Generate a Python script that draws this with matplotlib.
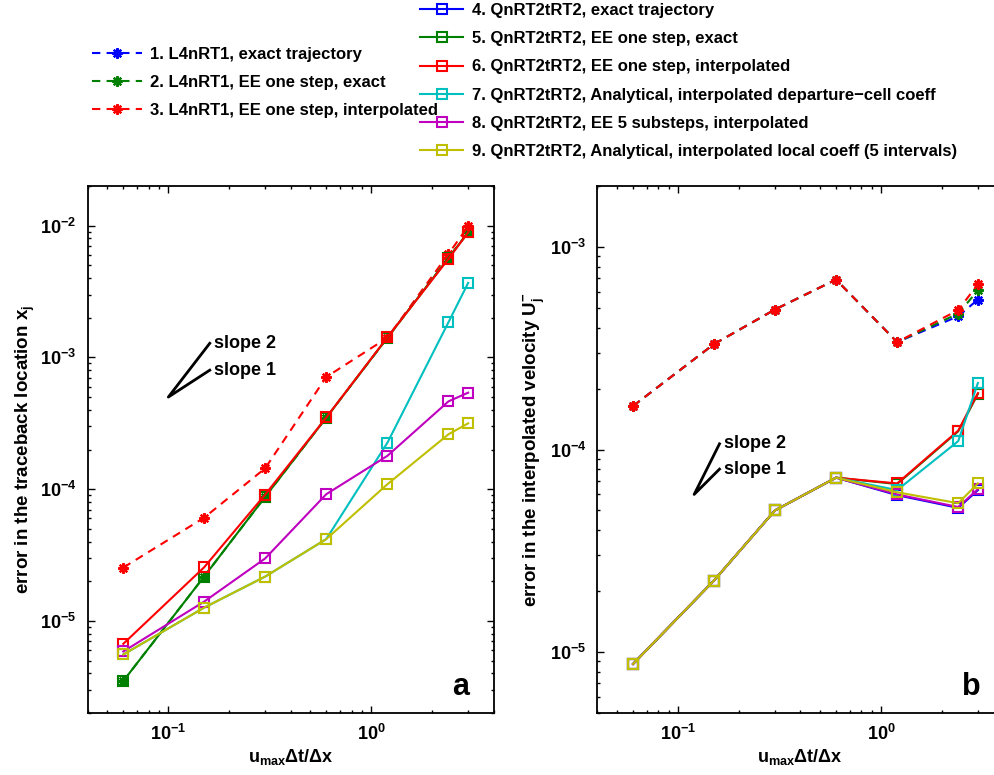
import numpy as np
import matplotlib
matplotlib.use("Agg")
import matplotlib.pyplot as plt
from matplotlib.ticker import LogLocator, NullFormatter

plt.rcParams["font.family"] = ["Liberation Sans", "DejaVu Sans"]
plt.rcParams["font.weight"] = "bold"
plt.rcParams["mathtext.fontset"] = "custom"
plt.rcParams["mathtext.rm"] = "Liberation Sans:bold"
plt.rcParams["mathtext.it"] = "Liberation Sans:bold"
plt.rcParams["mathtext.bf"] = "Liberation Sans:bold"
plt.rcParams["mathtext.sf"] = "Liberation Sans:bold"

# Courant numbers
courant = [0.06, 0.15, 0.3, 0.6, 1.2, 2.4, 3.0]

labels = [
    "1. L4nRT1, exact trajectory",
    "2. L4nRT1, EE one step, exact",
    "3. L4nRT1, EE one step, interpolated",
    "4. QnRT2tRT2, exact trajectory",
    "5. QnRT2tRT2, EE one step, exact",
    "6. QnRT2tRT2, EE one step, interpolated",
    "7. QnRT2tRT2, Analytical, interpolated departure\u2212cell coeff",
    "8. QnRT2tRT2, EE 5 substeps, interpolated",
    "9. QnRT2tRT2, Analytical, interpolated local coeff (5 intervals)",
]
colors = [(0, 0, 1), (0, 0.5, 0), (1, 0, 0), (0, 0, 1), (0, 0.5, 0), (1, 0, 0),
          (0, 0.75, 0.75), (0.75, 0, 0.75), (0.75, 0.75, 0)]

# (a) traceback location error; exact-trajectory runs have zero error
nan7 = [np.nan] * 7
trace_err = [
    nan7,
    [3.5e-6, 2.17e-5, 8.75e-5, 3.49e-4, 1.41e-3, 5.69e-3, 8.9e-3],
    [2.54e-5, 6.07e-5, 1.44e-4, 7.1e-4, 1.41e-3, 6.1e-3, 9.9e-3],
    nan7,
    [3.5e-6, 2.17e-5, 8.75e-5, 3.49e-4, 1.41e-3, 5.69e-3, 8.9e-3],
    [6.7e-6, 2.55e-5, 9.1e-5, 3.5e-4, 1.42e-3, 5.6e-3, 8.9e-3],
    [5.56e-6, 1.26e-5, 2.17e-5, 4.18e-5, 2.25e-4, 1.85e-3, 3.68e-3],
    [5.86e-6, 1.40e-5, 2.98e-5, 9.16e-5, 1.79e-4, 4.64e-4, 5.4e-4],
    [5.56e-6, 1.26e-5, 2.17e-5, 4.18e-5, 1.09e-4, 2.61e-4, 3.16e-4],
]

# (b) interpolated velocity error
vel_err = [
    [1.64e-4, 3.31e-4, 4.91e-4, 6.9e-4, 3.39e-4, 4.55e-4, 5.5e-4],
    [1.64e-4, 3.31e-4, 4.91e-4, 6.9e-4, 3.39e-4, 4.69e-4, 6.1e-4],
    [1.64e-4, 3.31e-4, 4.91e-4, 6.9e-4, 3.39e-4, 4.88e-4, 6.55e-4],
    [8.73e-6, 2.25e-5, 5.0e-5, 7.26e-5, 5.95e-5, 5.15e-5, 6.3e-5],
    [8.73e-6, 2.25e-5, 5.0e-5, 7.26e-5, 6.75e-5, 1.23e-4, 1.88e-4],
    [8.73e-6, 2.25e-5, 5.0e-5, 7.26e-5, 6.8e-5, 1.24e-4, 1.9e-4],
    [8.73e-6, 2.25e-5, 5.0e-5, 7.26e-5, 6.3e-5, 1.10e-4, 2.13e-4],
    [8.73e-6, 2.25e-5, 5.0e-5, 7.26e-5, 6.0e-5, 5.2e-5, 6.37e-5],
    [8.73e-6, 2.25e-5, 5.0e-5, 7.26e-5, 6.15e-5, 5.43e-5, 6.8e-5],
]

# reference slope triangles: (vertex x, vertex y, end x)
slope_a = (0.1, 5.0e-4, 0.16)
slope_b = (0.12, 6.0e-5, 0.16)

fig = plt.figure(figsize=(9.95, 7.75), dpi=100)
ax_a = fig.add_axes([0.088, 0.08, 0.408, 0.68])
ax_b = fig.add_axes([0.6003, 0.08, 0.408, 0.68])


def draw_series(ax, data):
    handles = []
    for i, y in enumerate(data):
        if i < 3:
            h, = ax.plot(courant, y, color=colors[i], lw=1.5, ls=(0, (4, 3)),
                         marker=(8, 2, 0), ms=7.5, mew=1.6, label=labels[i])
        else:
            h, = ax.plot(courant, y, color=colors[i], lw=1.5, ls="-",
                         marker="s", ms=7, mew=1.5, mfc="none", label=labels[i])
        handles.append(h)
    return handles


def draw_slopes(ax, tri):
    x0, y0, x1 = tri
    r = x1 / x0
    ax.plot([x1, x0, x1], [y0 * r ** 2, y0, y0 * r], color="k", lw=2)
    ax.text(x1 * 1.05, y0 * r ** 2, "slope 2", fontsize=13, fontweight="bold",
            va="center", ha="left")
    ax.text(x1 * 1.05, y0 * r, "slope 1", fontsize=13, fontweight="bold",
            va="center", ha="left")


def style_axes(ax, ylim, ylabel):
    ax.set_xscale("log")
    ax.set_yscale("log")
    ax.set_xlim(0.04, 4)
    ax.set_ylim(*ylim)
    ax.xaxis.set_minor_locator(LogLocator(base=10, subs=np.arange(2, 10), numticks=20))
    ax.yaxis.set_minor_locator(LogLocator(base=10, subs=np.arange(2, 10), numticks=20))
    ax.xaxis.set_minor_formatter(NullFormatter())
    ax.yaxis.set_minor_formatter(NullFormatter())
    ax.tick_params(which="both", direction="in", top=True, right=True,
                   labelsize=13, width=1)
    ax.tick_params(which="major", length=5, pad=8)
    ax.tick_params(which="minor", length=2.5)
    for sp in ax.spines.values():
        sp.set_linewidth(1.3)
    ax.set_xlabel(r"$\mathbf{u_{max}}$" + "\u0394t/\u0394x", fontsize=13,
                  fontweight="bold", labelpad=2)
    ax.set_ylabel(ylabel, fontsize=13.5, fontweight="bold", labelpad=2)


draw_series(ax_a, trace_err)
handles = draw_series(ax_b, vel_err)
draw_slopes(ax_a, slope_a)
draw_slopes(ax_b, slope_b)
style_axes(ax_a, (2e-6, 2e-2), r"error in the traceback location $\mathbf{x_j}$")
style_axes(ax_b, (5e-6, 2e-3), r"error in the interpolated velocity $\mathbf{U_j^{-}}$")

ax_a.text(0.94, 0.035, "a", transform=ax_a.transAxes, fontsize=22,
          fontweight="bold", ha="right", va="baseline")
ax_b.text(0.945, 0.035, "b", transform=ax_b.transAxes, fontsize=22,
          fontweight="bold", ha="right", va="baseline")

leg_kw = dict(frameon=False, numpoints=1, fontsize=12, borderpad=0,
              borderaxespad=0, labelspacing=0.79, handletextpad=0.5)
fig.legend(handles[:3], labels[:3], loc="upper left",
           bbox_to_anchor=(0.0925, 0.94), handlelength=3.0, **leg_kw)
fig.legend(handles[3:], labels[3:], loc="upper left",
           bbox_to_anchor=(0.422, 0.996), handlelength=2.6, **leg_kw)

fig.savefig("out.png", dpi=100)
